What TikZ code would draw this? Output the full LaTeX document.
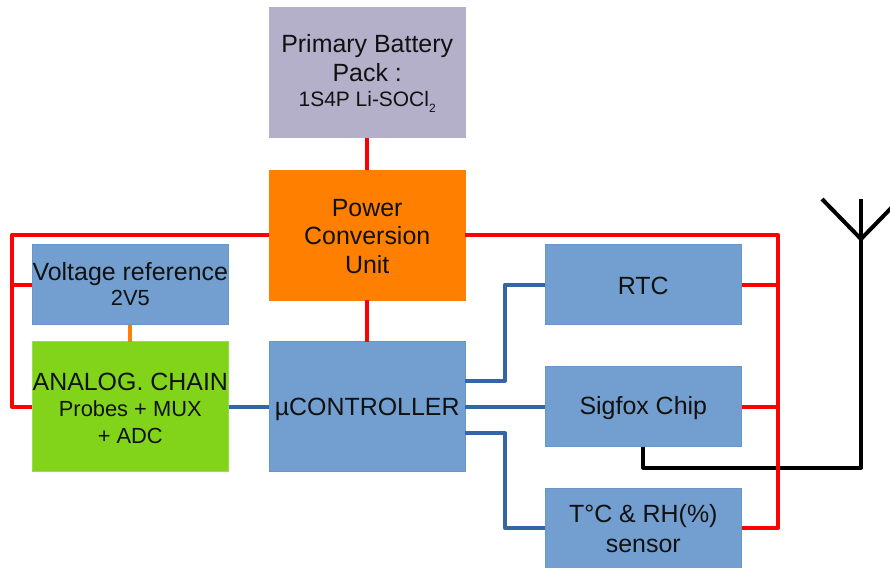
\documentclass[tikz,border=0pt]{standalone}
\usepackage{fontspec}
\setmainfont{Liberation Sans}
\definecolor{boxblue}{HTML}{729FCF}
\definecolor{edgeblue}{HTML}{3465A4}
\definecolor{lilac}{HTML}{B4B0C9}
\definecolor{powerorange}{HTML}{FF8000}
\definecolor{chaingreen}{HTML}{81D41A}
\definecolor{txt}{HTML}{111111}
\newcommand{\bigtxt}{\fontsize{18.7pt}{21.4pt}\selectfont}
\newcommand{\smalltxt}{\fontsize{16.4pt}{19pt}\selectfont}
\newcommand{\battxt}{\fontsize{15.7pt}{19pt}\selectfont}
\newcommand{\dn}[1]{\rule{0pt}{#1pt}}
\tikzset{
  x=0.75pt,y=-0.75pt,
  blockbox/.style={minimum width=147.4pt,inner sep=0pt,outer sep=0pt,align=center,text=txt,font=\bigtxt,line width=0.4pt},
  tall/.style={blockbox,minimum height=97.5pt},
  short/.style={blockbox,minimum height=60pt},
  bluebox/.style={fill=boxblue,draw=boxblue!85!edgeblue},
  redline/.style={draw=red,line width=3pt,line join=round},
  blueline/.style={draw=edgeblue,line width=3pt,line join=round},
  blackline/.style={draw=black,line width=3pt,line join=round},
  orangeline/.style={draw=powerorange,line width=3pt}
}
\begin{document}
\begin{tikzpicture}
\path[use as bounding box] (0,0) rectangle (890,568);
\clip (0,0) rectangle (890,568);
% coordinates
\coordinate (leftbus) at (12,235);
\coordinate (rightbus) at (778,235);
\coordinate (ant) at (861,239);
\coordinate (antL) at (822,199);
\coordinate (antM) at (861,199);
\coordinate (antR) at (900,199);
\coordinate (trunk) at (505,300);
\coordinate (rfy) at (700,467.5);
% boxes
\node[tall,fill=lilac,draw=lilac] (bat) at (367.2,72.5) {\dn{15}Primary Battery\\Pack :\\[-2pt]{\battxt 1S4P Li-SOCl\raisebox{-0.5ex}{\fontsize{9pt}{9pt}\selectfont 2}}};
\node[tall,fill=powerorange,draw=powerorange] (pcu) at (367.2,235) {\dn{15}Power\\Conversion\\Unit};
\node[tall,bluebox] (mcu) at (367.2,406.5) {\dn{17.5}µCONTROLLER};
\node[tall,fill=chaingreen,draw=chaingreen!80!white] (chain) at (130.3,406.5) {\dn{16}ANALOG. CHAIN\\[-2pt]{\smalltxt Probes + MUX}\\[-1pt]{\smalltxt + ADC}};
\node[short,bluebox] (vref) at (130.3,284.5) {Voltage reference\\[-2.75pt]{\smalltxt 2V5}};
\node[short,bluebox] (rtc) at (643.3,284.5) {\dn{14.5}RTC};
\node[short,bluebox] (sig) at (643.3,406.5) {\dn{16}Sigfox Chip};
\node[short,bluebox] (sens) at (643.3,528) {\dn{15}T°C \& RH(\%)\\[1pt]sensor};
% black rf line and antenna
\draw[blackline] (sig.south) |- (rfy -| ant) -- (ant);
\draw[blackline] (antL) -- (ant) -- (antR);
\draw[blackline] (antM) -- (ant);
% power
\draw[redline] (bat.south) -- (pcu.north);
\draw[redline] (pcu.south) -- (mcu.north);
\draw[redline] (pcu.west) -- (leftbus) |- (chain.west);
\draw[redline] (vref.west) -- (vref.west -| leftbus);
\draw[redline] (pcu.east) -- (rightbus) |- (sens.east);
\draw[redline] (rtc.east) -- (rtc.east -| rightbus);
\draw[redline] (sig.east) -- (sig.east -| rightbus);
% signal
\draw[orangeline] (vref.south) -- (chain.north);
\draw[blueline] (chain.east) -- (mcu.west);
\draw[blueline] ([yshift=19.5pt]mcu.east) -| (trunk) |- (rtc.west);
\draw[blueline] (mcu.east) -- (sig.west);
\draw[blueline] ([yshift=-20pt]mcu.east) -| (trunk |- sens.west) -- (sens.west);
\end{tikzpicture}
\end{document}
